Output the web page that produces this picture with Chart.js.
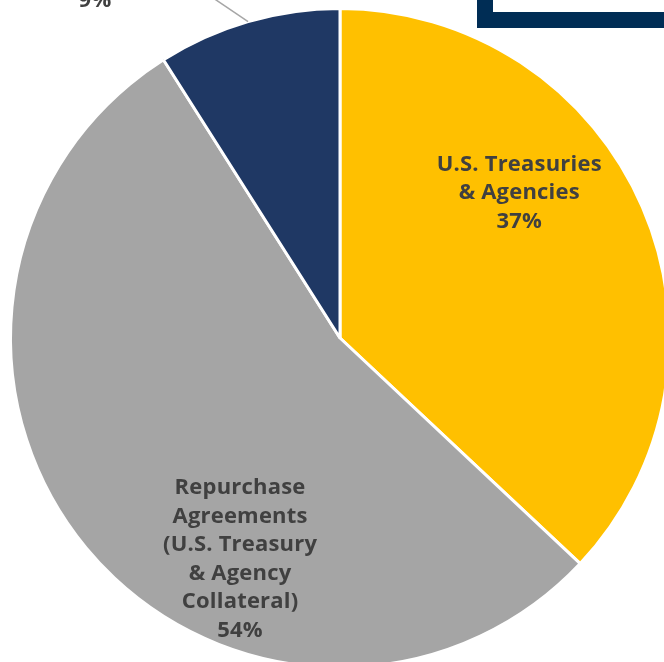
<!DOCTYPE html>
<html>
<head>
<meta charset="utf-8">
<script src="https://cdn.jsdelivr.net/npm/chart.js@4.4.1/dist/chart.umd.min.js"></script>
<style>
    html, body { margin: 0; padding: 0; background: #fff; overflow: hidden; }
    body { width: 664px; height: 662px; position: relative; }
    #wrap { position: absolute; left: 0; top: -2px; width: 680px; height: 680px; }
    .frame {
        position: absolute; left: 477px; top: -100px;
        width: 400px; height: 128px; box-sizing: border-box;
        border: 16px solid #002d55; background: #fff;
    }
</style>
</head>
<body>
<div id="wrap"><canvas id="holdingsChart"></canvas></div>
<div class="frame"></div>

<script>
// ============================
// DATA
// ============================
const categories = [
    ["U.S. Treasuries", "& Agencies"],
    ["Repurchase", "Agreements", "(U.S. Treasury", "& Agency", "Collateral)"],
    ["Commercial Paper"]
];
const shares = [37, 54, 9];
const shareLabels = ["37%", "54%", "9%"];
const sliceColors = ["#ffc000", "#a5a5a5", "#1f3864"];

// label anchors: angle clockwise from top (deg), distance as fraction of radius
const labelSpots = [
    { angle: 51, dist: 0.70, outside: false },
    { angle: 204.3, dist: 0.737, outside: false },
    { angle: 324, dist: 1.265, outside: true }
];

const FONT = "bold 22px 'Open Sans', Lato, sans-serif";
const LINE_H = 28.5;

// ============================
// LABEL PLUGIN
// ============================
const sliceLabels = {
    id: "sliceLabels",
    afterDatasetsDraw(chart) {
        const ctx = chart.ctx;
        const arcs = chart.getDatasetMeta(0).data;
        ctx.save();
        ctx.font = FONT;
        if ("letterSpacing" in ctx) ctx.letterSpacing = "0.2px";
        ctx.fillStyle = "#404040";
        ctx.textAlign = "center";
        ctx.textBaseline = "middle";

        arcs.forEach((arc, i) => {
            const spot = labelSpots[i];
            const r = arc.outerRadius;
            const a = (spot.angle - 90) * Math.PI / 180;
            const cx = arc.x + Math.cos(a) * r * spot.dist;
            const cy = arc.y + Math.sin(a) * r * spot.dist;

            let lines = categories[i].concat([shareLabels[i]]);
            if (spot.outside) {
                lines = [shareLabels[i]];
                // leader line from slice edge
                const mid = (arc.startAngle + arc.endAngle) / 2;
                const ea = (336.7 - 90) * Math.PI / 180;
                ctx.beginPath();
                ctx.strokeStyle = "#a6a6a6";
                ctx.lineWidth = 1.5;
                ctx.moveTo(arc.x + Math.cos(mid) * r, arc.y + Math.sin(mid) * r);
                ctx.lineTo(arc.x + Math.cos(ea) * r * 1.185, arc.y + Math.sin(ea) * r * 1.185);
                ctx.stroke();
            }

            const top = cy - (lines.length - 1) * LINE_H / 2;
            lines.forEach((txt, k) => {
                ctx.fillText(txt, cx, top + k * LINE_H);
            });
        });
        ctx.restore();
    }
};

// ============================
// CHART
// ============================
new Chart(document.getElementById("holdingsChart"), {
    type: "pie",
    data: {
        labels: categories.map(c => c.join(" ")),
        datasets: [{
            data: shares,
            backgroundColor: sliceColors,
            borderColor: "#ffffff",
            borderWidth: 3
        }]
    },
    options: {
        responsive: true,
        maintainAspectRatio: false,
        animation: false,
        layout: { padding: 9 },
        plugins: {
            legend: { display: false },
            tooltip: { enabled: false }
        }
    },
    plugins: [sliceLabels]
});
</script>
</body>
</html>
